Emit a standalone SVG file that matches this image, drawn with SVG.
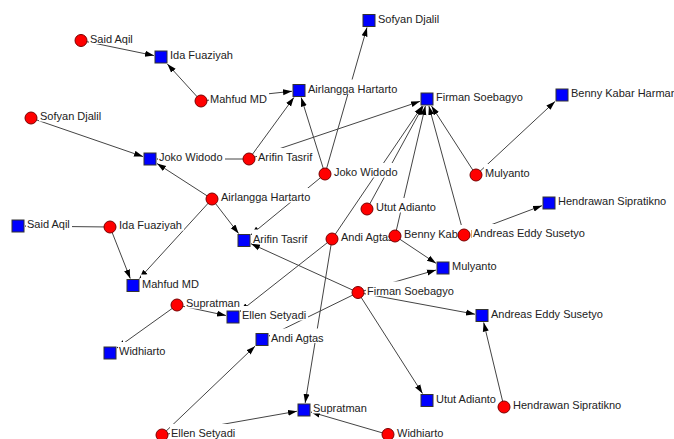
<svg xmlns="http://www.w3.org/2000/svg" width="674" height="439" viewBox="0 0 674 439">
<defs>
<marker id="arr" markerUnits="userSpaceOnUse" markerWidth="10" markerHeight="8" refX="9" refY="3.5" orient="auto"><path d="M0,0.5 L9,3.5 L0,6.5 z" fill="#000"/></marker>
</defs>
<style>
.e line{stroke:#444;stroke-width:1;fill:none;marker-end:url(#arr)}
.c{fill:#f00;stroke:#7a0000;stroke-width:1}
.s{fill:#00f;stroke:#333;stroke-width:1}
.bg{fill:#fff}
text{font-family:"Liberation Sans",Arial,sans-serif;font-size:11px;fill:#222}
</style>
<rect width="674" height="439" fill="#fff"/>
<g id="connectors" class="e">
<line x1="81" y1="40.5" x2="154" y2="55.56"/>
<line x1="201" y1="101" x2="167.36" y2="64"/>
<line x1="201" y1="101" x2="292" y2="91.25"/>
<line x1="249" y1="159" x2="293.89" y2="97.5"/>
<line x1="325" y1="174" x2="301.18" y2="97.5"/>
<line x1="325" y1="174" x2="366.99" y2="27.5"/>
<line x1="249" y1="159" x2="420" y2="101.36"/>
<line x1="31" y1="118" x2="143" y2="156.59"/>
<line x1="249" y1="159" x2="157" y2="159"/>
<line x1="212" y1="199" x2="157" y2="163.52"/>
<line x1="212" y1="199" x2="238.6" y2="233.5"/>
<line x1="212" y1="199" x2="139.39" y2="278.5"/>
<line x1="110" y1="227" x2="130.25" y2="278.5"/>
<line x1="110" y1="227" x2="25" y2="226.08"/>
<line x1="325" y1="174" x2="251" y2="234.75"/>
<line x1="358" y1="292.5" x2="251" y2="243.69"/>
<line x1="358" y1="292.5" x2="436" y2="270.02"/>
<line x1="358" y1="292.5" x2="475" y2="314.2"/>
<line x1="358" y1="292.5" x2="422.53" y2="393.5"/>
<line x1="358" y1="292.5" x2="269" y2="336.07"/>
<line x1="332" y1="239" x2="240" y2="311.48"/>
<line x1="332" y1="239" x2="305.15" y2="403"/>
<line x1="332" y1="239" x2="422.25" y2="106"/>
<line x1="367" y1="209" x2="423.18" y2="106"/>
<line x1="395" y1="236" x2="425.36" y2="106"/>
<line x1="395" y1="236" x2="436" y2="263.33"/>
<line x1="476" y1="175" x2="555" y2="101.51"/>
<line x1="476" y1="175" x2="431.51" y2="106"/>
<line x1="464" y1="235" x2="428.9" y2="106"/>
<line x1="464" y1="235" x2="542" y2="205.64"/>
<line x1="504" y1="407" x2="483.68" y2="322.5"/>
<line x1="388" y1="434.5" x2="311" y2="412.04"/>
<line x1="162" y1="435" x2="297" y2="411.23"/>
<line x1="162" y1="435" x2="255" y2="346.19"/>
<line x1="177" y1="305" x2="226" y2="315.5"/>
<line x1="177" y1="305" x2="117" y2="347.98"/>
</g>
<g id="sq-sofyan-djalil"><rect class="s" x="363" y="14.5" width="12" height="12"/><rect class="bg" x="377" y="9.5" width="64" height="14.5"/><text x="378" y="22.5">Sofyan Djalil</text></g>
<g id="sq-ida-fuaziyah"><rect class="s" x="155" y="51" width="12" height="12"/><rect class="bg" x="169" y="46" width="66" height="14.5"/><text x="170" y="59">Ida Fuaziyah</text></g>
<g id="sq-airlangga-hartarto"><rect class="s" x="293" y="84.5" width="12" height="12"/><rect class="bg" x="307" y="79.5" width="92" height="14.5"/><text x="308" y="92.5">Airlangga Hartarto</text></g>
<g id="sq-firman-soebagyo"><rect class="s" x="421" y="93" width="12" height="12"/><rect class="bg" x="435" y="88" width="90" height="14.5"/><text x="436" y="101">Firman Soebagyo</text></g>
<g id="sq-benny-kabar-harman"><rect class="s" x="556" y="89" width="12" height="12"/><rect class="bg" x="570" y="84" width="109" height="14.5"/><text x="571" y="97">Benny Kabar Harman</text></g>
<g id="sq-joko-widodo"><rect class="s" x="144" y="153" width="12" height="12"/><rect class="bg" x="158" y="148" width="67" height="14.5"/><text x="159" y="161">Joko Widodo</text></g>
<g id="sq-said-aqil"><rect class="s" x="12" y="220" width="12" height="12"/><rect class="bg" x="26" y="215" width="46" height="14.5"/><text x="27" y="228">Said Aqil</text></g>
<g id="sq-arifin-tasrif"><rect class="s" x="238" y="234.5" width="12" height="12"/><rect class="bg" x="252" y="229.5" width="59" height="14.5"/><text x="253" y="242.5">Arifin Tasrif</text></g>
<g id="sq-hendrawan-sipratikno"><rect class="s" x="543" y="197" width="12" height="12"/><rect class="bg" x="557" y="192" width="110" height="14.5"/><text x="558" y="205">Hendrawan Sipratikno</text></g>
<g id="sq-mulyanto"><rect class="s" x="437" y="262" width="12" height="12"/><rect class="bg" x="451" y="257" width="48" height="14.5"/><text x="452" y="270">Mulyanto</text></g>
<g id="sq-mahfud-md"><rect class="s" x="127" y="279.5" width="12" height="12"/><rect class="bg" x="141" y="274.5" width="60" height="14.5"/><text x="142" y="287.5">Mahfud MD</text></g>
<g id="sq-ellen-setyadi"><rect class="s" x="227" y="311" width="12" height="12"/><rect class="bg" x="241" y="306" width="67" height="14.5"/><text x="242" y="319">Ellen Setyadi</text></g>
<g id="sq-andreas-eddy-susetyo"><rect class="s" x="476" y="309.5" width="12" height="12"/><rect class="bg" x="490" y="304.5" width="116" height="14.5"/><text x="491" y="317.5">Andreas Eddy Susetyo</text></g>
<g id="sq-andi-agtas"><rect class="s" x="256" y="333.5" width="12" height="12"/><rect class="bg" x="270" y="328.5" width="56" height="14.5"/><text x="271" y="341.5">Andi Agtas</text></g>
<g id="sq-widhiarto"><rect class="s" x="104" y="347" width="12" height="12"/><rect class="bg" x="118" y="342" width="50" height="14.5"/><text x="119" y="355">Widhiarto</text></g>
<g id="sq-supratman"><rect class="s" x="298" y="404" width="12" height="12"/><rect class="bg" x="312" y="399" width="57" height="14.5"/><text x="313" y="412">Supratman</text></g>
<g id="sq-utut-adianto"><rect class="s" x="421" y="394.5" width="12" height="12"/><rect class="bg" x="435" y="389.5" width="64" height="14.5"/><text x="436" y="402.5">Utut Adianto</text></g>
<g id="c-said-aqil"><circle class="c" cx="81" cy="40.5" r="6"/><rect class="bg" x="89" y="29.5" width="46" height="14.5"/><text x="90" y="42.5">Said Aqil</text></g>
<g id="c-mahfud-md"><circle class="c" cx="201" cy="101" r="6"/><rect class="bg" x="209" y="90" width="60" height="14.5"/><text x="210" y="103">Mahfud MD</text></g>
<g id="c-sofyan-djalil"><circle class="c" cx="31" cy="118" r="6"/><rect class="bg" x="39" y="107" width="64" height="14.5"/><text x="40" y="120">Sofyan Djalil</text></g>
<g id="c-arifin-tasrif"><circle class="c" cx="249" cy="159" r="6"/><rect class="bg" x="257" y="148" width="59" height="14.5"/><text x="258" y="161">Arifin Tasrif</text></g>
<g id="c-joko-widodo"><circle class="c" cx="325" cy="174" r="6"/><rect class="bg" x="333" y="163" width="67" height="14.5"/><text x="334" y="176">Joko Widodo</text></g>
<g id="c-mulyanto"><circle class="c" cx="476" cy="175" r="6"/><rect class="bg" x="484" y="164" width="48" height="14.5"/><text x="485" y="177">Mulyanto</text></g>
<g id="c-airlangga-hartarto"><circle class="c" cx="212" cy="199" r="6"/><rect class="bg" x="220" y="188" width="92" height="14.5"/><text x="221" y="201">Airlangga Hartarto</text></g>
<g id="c-utut-adianto"><circle class="c" cx="367" cy="209" r="6"/><rect class="bg" x="375" y="198" width="64" height="14.5"/><text x="376" y="211">Utut Adianto</text></g>
<g id="c-ida-fuaziyah"><circle class="c" cx="110" cy="227" r="6"/><rect class="bg" x="118" y="216" width="66" height="14.5"/><text x="119" y="229">Ida Fuaziyah</text></g>
<g id="c-andi-agtas"><circle class="c" cx="332" cy="239" r="6"/><rect class="bg" x="340" y="228" width="56" height="14.5"/><text x="341" y="241">Andi Agtas</text></g>
<g id="c-benny-kabar-harman"><circle class="c" cx="395" cy="236" r="6"/><rect class="bg" x="403" y="225" width="109" height="14.5"/><text x="404" y="238">Benny Kabar Harman</text></g>
<g id="c-andreas-eddy-susetyo"><circle class="c" cx="464" cy="235" r="6"/><rect class="bg" x="472" y="224" width="116" height="14.5"/><text x="473" y="237">Andreas Eddy Susetyo</text></g>
<g id="c-firman-soebagyo"><circle class="c" cx="358" cy="292.5" r="6"/><rect class="bg" x="366" y="281.5" width="90" height="14.5"/><text x="367" y="294.5">Firman Soebagyo</text></g>
<g id="c-supratman"><circle class="c" cx="177" cy="305" r="6"/><rect class="bg" x="185" y="294" width="57" height="14.5"/><text x="186" y="307">Supratman</text></g>
<g id="c-hendrawan-sipratikno"><circle class="c" cx="504" cy="407" r="6"/><rect class="bg" x="512" y="396" width="110" height="14.5"/><text x="513" y="409">Hendrawan Sipratikno</text></g>
<g id="c-widhiarto"><circle class="c" cx="388" cy="434.5" r="6"/><rect class="bg" x="396" y="423.5" width="50" height="14.5"/><text x="397" y="436.5">Widhiarto</text></g>
<g id="c-ellen-setyadi"><circle class="c" cx="162" cy="435" r="6"/><rect class="bg" x="170" y="424" width="67" height="14.5"/><text x="171" y="437">Ellen Setyadi</text></g>
</svg>
